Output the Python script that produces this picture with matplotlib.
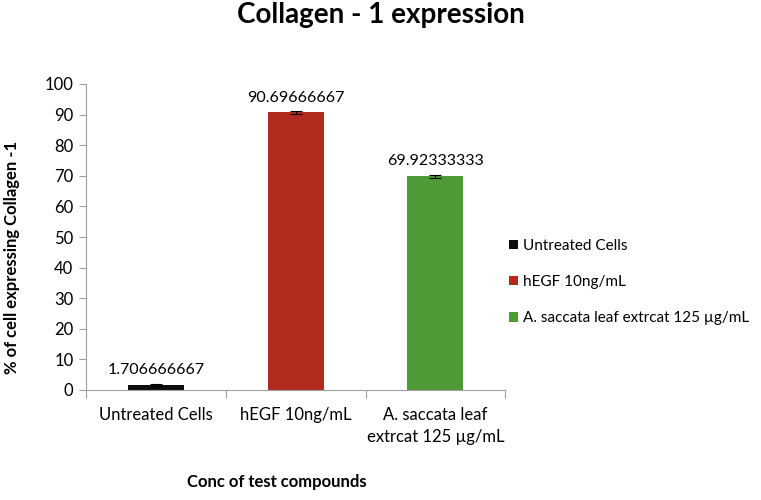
import numpy as np
import matplotlib
matplotlib.use("Agg")
import matplotlib.pyplot as plt

plt.rcParams['font.family'] = ['Lato', 'DejaVu Sans']

categories = ["Untreated Cells", "hEGF 10ng/mL", "A. saccata leaf\nextrcat 125 µg/mL"]
legend_labels = ["Untreated Cells", "hEGF 10ng/mL", "A. saccata leaf extrcat 125 µg/mL"]
values = [1.706666667, 90.69666667, 69.92333333]
errors = [0.3, 0.5, 0.5]
value_text = ["1.706666667", "90.69666667", "69.92333333"]
colors = ["#0d0d0d", "#b22b1e", "#4e9a35"]
yticks = [0, 10, 20, 30, 40, 50, 60, 70, 80, 90, 100]

fig = plt.figure(figsize=(7.61, 5.0), dpi=100)
ax = fig.add_axes([0.113, 0.22, 0.551, 0.612])

x = np.arange(len(categories))
for i in range(len(categories)):
    ax.bar(x[i], values[i], width=0.4, color=colors[i], label=legend_labels[i],
           yerr=errors[i], capsize=4, error_kw=dict(ecolor="black", elinewidth=0.8, capthick=0.8),
           zorder=2)
    ax.text(x[i], values[i] + 2.5, value_text[i], ha="center", va="bottom", fontsize=11.5)

ax.set_xlim(-0.5, 2.5)
ax.set_ylim(0, 100)
ax.set_yticks(yticks)
ax.set_xticks([-0.5, 0.5, 1.5, 2.5], minor=False)
ax.set_xticklabels([])
ax.set_xticks(x, minor=True)
ax.set_xticklabels(categories, minor=True, fontsize=12, linespacing=1.5)
ax.tick_params(axis="x", which="minor", length=0, pad=12)
ax.tick_params(axis="x", which="major", length=6, color="#a0a0a0", direction="out")
ax.tick_params(axis="y", length=5, color="#a0a0a0", labelsize=12, pad=4)

for s in ["top", "right"]:
    ax.spines[s].set_visible(False)
for s in ["left", "bottom"]:
    ax.spines[s].set_color("#a0a0a0")

# y label placed directly in figure coords
fig.text(0.016, 0.485, "% of cell expressing Collagen -1", rotation=90,
         ha="center", va="center", fontsize=12, fontweight="bold")
fig.text(0.364, 0.02, "Conc of test compounds", ha="center", va="bottom",
         fontsize=12, fontweight="bold")
fig.suptitle("Collagen - 1 expression", fontsize=20, fontweight="bold", y=0.995)

ax.legend(loc="center left", bbox_to_anchor=(0.975, 0.353), frameon=False,
          fontsize=11, handlelength=0.6, handleheight=0.6, handletextpad=0.35,
          labelspacing=1.45)

plt.savefig("out.png", dpi=100)
